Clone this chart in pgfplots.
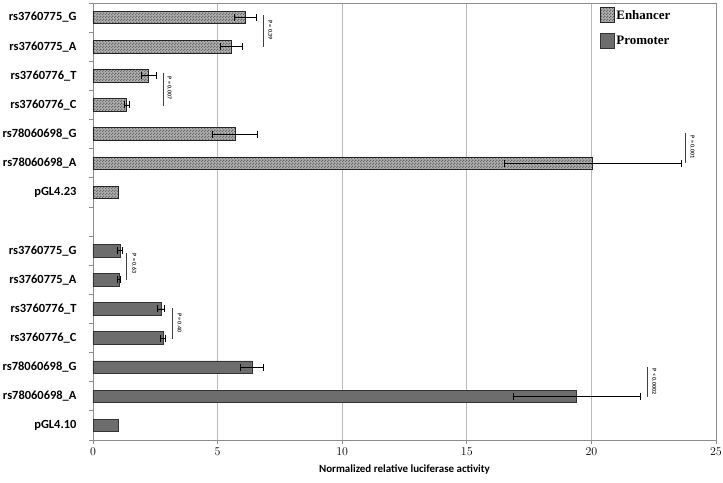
\documentclass[border=0pt]{standalone}
\usepackage{pgfplots}
\pgfplotsset{compat=1.18}
\usepackage{pgfplotstable}
\usetikzlibrary{patterns}
\usepackage{fontspec}
\setmainfont{Carlito}
\newfontfamily\legfont{Liberation Serif}

\definecolor{promo}{HTML}{6D6D6D}
\definecolor{enh}{HTML}{B0B0B0}
\definecolor{enhdot}{HTML}{6A6A6A}
\definecolor{framec}{HTML}{8C8C8C}

% fine checkerboard, like the enhancer bars
\pgfdeclarepatternformonly{finecheck}{\pgfqpoint{0bp}{0bp}}{\pgfqpoint{3bp}{3bp}}{\pgfqpoint{3bp}{3bp}}{%
  \pgfpathrectangle{\pgfqpoint{0bp}{0bp}}{\pgfqpoint{1.5bp}{1.5bp}}%
  \pgfpathrectangle{\pgfqpoint{1.5bp}{1.5bp}}{\pgfqpoint{1.5bp}{1.5bp}}%
  \pgfusepath{fill}}

\pgfplotsset{
  boxlegend/.style={legend image code/.code={\draw[##1] (0bp,-7.5bp) rectangle (14bp,7.5bp);}},
  enhbar/.style={fill=enh, draw=black!85, line width=0.8bp,
    postaction={pattern=finecheck, pattern color=enhdot}},
  probar/.style={fill=promo, draw=black!80, line width=0.8bp},
}
\tikzset{pnote/.style={rotate=-90, font=\bfseries\fontsize{6}{7}\selectfont, text=black!85}}

% enhancer constructs (top block), positions 0-5
\pgfplotstableread{
pos val err
0 6.12 0.43
1 5.56 0.43
2 2.23 0.30
3 1.36 0.09
4 5.71 0.90
5 20.05 3.55
}\enhancer
% promoter constructs (bottom block), positions 8-13
\pgfplotstableread{
pos val err
8 1.08 0.09
9 1.04 0.07
10 2.73 0.13
11 2.82 0.10
12 6.39 0.46
13 19.40 2.55
}\promoter

\begin{document}
\begin{tikzpicture}
\begin{axis}[
scale only axis,
width=623bp, height=437bp,
xbar, bar width=0.43, bar shift=0pt,
xmin=0, xmax=25,
ymin=-0.5, ymax=14.5,
y dir=reverse,
xtick={0,5,...,25},
ytick={0,...,14},
yticklabels={rs3760775\_G,rs3760775\_A,rs3760776\_T,rs3760776\_C,rs78060698\_G,rs78060698\_A,pGL4.23,,rs3760775\_G,rs3760775\_A,rs3760776\_T,rs3760776\_C,rs78060698\_G,rs78060698\_A,pGL4.10},
minor ytick={-0.5,0.5,...,14.5},
tick pos=left,
xmajorgrids, grid style={gray!55, line width=0.8bp},
axis line style={framec, line width=0.8bp},
tick align=outside, major tick length=4bp, minor tick length=4bp,
tick style={framec, line width=0.8bp},
major y tick style={draw=none},
yticklabel style={font=\bfseries\fontsize{12.5}{14}\selectfont, xshift=-9bp},
xticklabel style={font=\bfseries\fontsize{12.5}{14}\selectfont},
xlabel={Normalized relative luciferase activity},
xlabel style={font=\bfseries\fontsize{11}{13}\selectfont, yshift=-3bp},
legend cell align=left,
legend style={draw=none, fill=none, at={(0.808,0.995)}, anchor=north west,
  font=\legfont\bfseries\fontsize{13}{15}\selectfont, row sep=10bp},
error bars/error bar style={black, line width=0.8bp},
error bars/error mark options={rotate=90, black, line width=0.8bp, mark size=3.5bp},
]
\addplot[enhbar, boxlegend, error bars/.cd, x dir=both, x explicit]
  table[x=val, y=pos, x error=err] {\enhancer};
\addlegendentry{Enhancer}
\addplot[probar, boxlegend, error bars/.cd, x dir=both, x explicit]
  table[x=val, y=pos, x error=err] {\promoter};
\addlegendentry{Promoter}
% empty-vector controls, no error bars
\addplot[enhbar, forget plot] coordinates {(1.0,6)};
\addplot[probar, forget plot] coordinates {(1.0,14)};

% P-value annotations
\draw[black!75, line width=0.9bp] (axis cs:6.82,-0.1) -- (axis cs:6.82,1.0);
\node[pnote] at (axis cs:7.12,0.43) {P = 0.39};
\draw[black!75, line width=0.9bp] (axis cs:2.81,1.9) -- (axis cs:2.81,3.04);
\node[pnote] at (axis cs:3.07,2.42) {P = 0.007};
\draw[black!75, line width=0.9bp] (axis cs:23.76,3.96) -- (axis cs:23.76,5.0);
\node[pnote] at (axis cs:24.06,4.44) {P = 0.001};
\draw[black!75, line width=0.9bp] (axis cs:1.36,8.08) -- (axis cs:1.36,9.0);
\node[pnote] at (axis cs:1.66,8.45) {P = 0.63};
\draw[black!75, line width=0.9bp] (axis cs:3.17,9.97) -- (axis cs:3.17,11.04);
\node[pnote] at (axis cs:3.47,10.48) {P = 0.40};
\draw[black!75, line width=0.9bp] (axis cs:22.23,12.0) -- (axis cs:22.23,13.03);
\node[pnote] at (axis cs:22.52,12.49) {P < 0.0002};
\end{axis}
\pgfresetboundingbox
\path ([shift={(-93bp,-43bp)}]current axis.south west) rectangle ([shift={(7bp,3bp)}]current axis.north east);
\end{tikzpicture}
\end{document}
